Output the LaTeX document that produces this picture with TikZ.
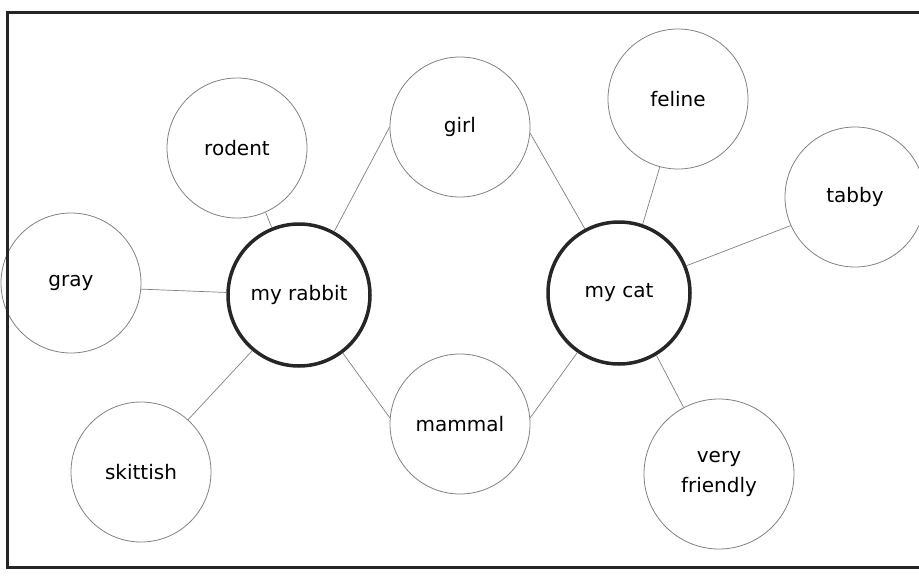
\documentclass[tikz,border=0pt]{standalone}
\usepackage{fontspec}
\setmainfont{DejaVu Sans}
\usepackage{tikz}

\begin{document}
\begin{tikzpicture}[x=1pt,y=-1pt,
    bubble/.style={circle,draw=black!50,line width=0.8pt,minimum size=140pt,inner sep=0pt,
        align=center,font=\fontsize{20}{30}\selectfont},
    hub/.style={bubble,draw=black!85,line width=3.5pt,minimum size=142pt},
    link/.style={draw=black!50,line width=0.7pt},
    frame/.style={draw=black!85,line width=3pt}]

\useasboundingbox (0,0) rectangle (919,576);

\node [hub] (rabbit) at (299,295) {my rabbit};
\node [hub] (cat) at (619,293) {my cat};

\node [bubble] (rodent) at (237,148) {rodent};
\node [bubble] (gray) at (71,283) {gray};
\node [bubble] (skittish) at (141,472) {skittish};

\node [bubble] (girl) at (460,127) {girl};
\node [bubble] (mammal) at (460,424) {mammal};

\node [bubble] (feline) at (678,99) {feline};
\node [bubble] (tabby) at (855,197) {tabby};
\node [bubble,minimum size=150pt] (friendly) at (719,474) {very\\friendly};

\foreach \From/\To in {rodent.-66/rabbit.112, gray.-5/rabbit.178, skittish.48/rabbit.230,
    rabbit.61/girl.180, rabbit.-53/mammal.175}{
    \draw [link] (\From) -- (\To);
}
\foreach \From/\To in {girl.-5/cat.118, mammal.5/cat.235, feline.-105/cat.71,
    tabby.204/cat.22, friendly.118/cat.-59}{
    \draw [link] (\From) -- (\To);
}

\draw [frame] (919,12) -- (7,12) -- (7,567) -- (919,567); % open on the right

\end{tikzpicture}
\end{document}
